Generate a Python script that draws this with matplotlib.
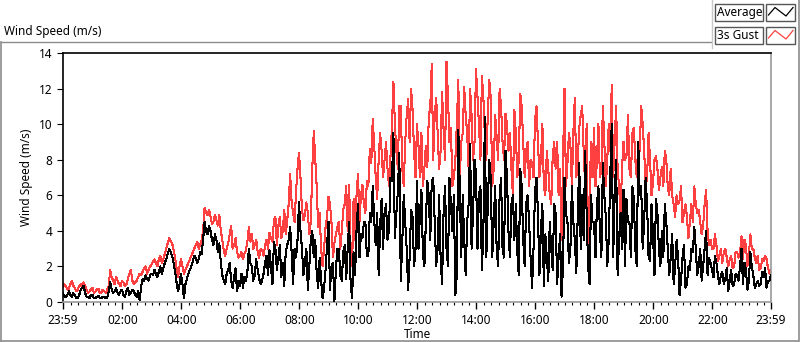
import numpy as np
import matplotlib
matplotlib.use("Agg")
import matplotlib.pyplot as plt
from matplotlib.lines import Line2D
from matplotlib.patches import Rectangle

plt.rcParams['font.family'] = ['Noto Sans', 'DejaVu Sans']

# samples every 3 minutes after 23:59; "main" at 0,6,12..., "mid" at 3,9,15...
minutes = np.arange(0, 1441, 3)

gust_main = [
    0.85, 0.9, 0.75, 1.2, 0.8, 0.7, 1.0, 1.1, 0.7, 0.6, 0.8, 0.6, 0.75, 0.55, 0.6, 0.7, 1.8, 1.2, 1.4, 1.0,
    1.2, 0.9, 1.3, 1.8, 1.0, 1.2, 1.6, 1.7, 2.0, 1.8, 2.1, 2.4, 2.0, 2.6, 2.4, 3.0, 3.6, 3.3, 2.5, 1.4,
    2.4, 1.6, 2.0, 2.4, 2.8, 3.2, 3.0, 3.5, 5.3, 4.9, 4.8, 4.5, 4.6, 4.9, 3.5, 2.6, 3.3, 4.3, 3.2, 2.8,
    2.6, 2.4, 2.9, 4.2, 3.8, 3.2, 2.8, 3.0, 2.6, 3.5, 3.9, 3.4, 4.8, 4.3, 3.6, 5.2, 4.6, 7.2, 5.0, 6.2, 8.4,
    5.2, 4.9, 5.0, 4.5, 9.6, 6.5, 5.0, 2.0, 4.2, 5.9, 4.5, 3.3, 4.2, 3.0, 5.2, 6.5, 6.6, 2.0, 3.5, 7.2,
    6.0, 5.5, 6.8, 8.6, 10.3, 7.0, 8.0, 8.5, 8.0, 7.5, 8.2, 12.4, 8.5, 11.0, 7.5, 9.0, 11.4, 12.0, 8.5, 10.0,
    7.0, 6.5, 8.8, 10.4, 13.4, 10.5, 9.5, 8.5, 9.7, 13.5, 9.0, 6.5, 8.0, 12.5, 9.0, 12.1, 9.5, 12.0, 8.0, 13.1,
    10.0, 12.7, 9.3, 10.5, 11.5, 7.5, 9.3, 12.0, 9.0, 10.6, 8.5, 7.5, 10.8, 7.0, 11.7, 9.0, 8.5, 6.5, 7.8, 10.2, 9.0,
    8.0, 6.5, 8.5, 6.0, 8.2, 7.5, 6.0, 3.5, 12.0, 7.8, 8.8, 9.5, 7.0, 9.8, 11.0, 6.5, 3.0, 9.0, 9.8, 8.0,
    7.0, 11.0, 6.5, 10.0, 12.2, 9.0, 7.5, 5.0, 9.0, 8.2, 7.5, 9.5, 8.0, 9.0, 11.0, 8.5, 7.0, 8.0, 6.7, 8.2, 6.3,
    7.6, 8.5, 6.5, 7.5, 5.5, 6.0, 5.7, 4.5, 5.5, 3.6, 5.5, 6.5, 5.0, 4.5, 4.3, 6.3, 3.2, 3.0, 3.8, 2.3,
    3.0, 2.8, 2.5, 2.4, 1.9, 2.8, 2.5, 3.7, 3.5, 2.0, 3.8, 3.0, 2.2, 1.8, 2.4, 2.6, 1.9, 1.8,
]

gust_mid = [
    1.0, 0.7, 1.0, 0.9, 0.6, 0.9, 0.8, 0.9, 0.5, 0.7, 0.5, 0.7, 0.5, 0.7, 0.5, 0.9, 1.4, 1.0, 1.2, 0.9,
    1.1, 1.0, 1.6, 1.2, 1.1, 1.4, 1.5, 1.9, 1.6, 2.0, 2.3, 2.2, 2.4, 2.2, 2.7, 3.3, 3.4, 2.9, 1.9, 2.0,
    2.0, 1.8, 2.2, 2.6, 3.0, 3.4, 3.2, 4.0, 5.0, 5.2, 4.4, 4.9, 4.3, 4.0, 2.9, 3.0, 3.8, 3.0, 3.6, 2.5,
    2.8, 2.7, 3.4, 3.4, 3.0, 3.5, 2.5, 2.9, 3.2, 3.0, 3.6, 4.6, 3.2, 4.8, 4.0, 3.8, 5.5, 5.6, 4.5, 7.5,
    7.0, 4.6, 5.6, 3.8, 7.5, 8.0, 4.2, 3.0, 3.0, 4.8, 5.5, 2.5, 3.8, 4.5, 4.0, 5.5, 4.0, 3.0, 5.8, 6.0,
    4.5, 6.6, 5.0, 6.5, 7.8, 8.8, 5.8, 9.5, 7.0, 9.0, 6.5, 9.8, 10.0, 7.5, 11.0, 6.5, 10.5, 9.0, 10.8, 7.0,
    8.8, 9.5, 7.5, 7.6, 11.0, 8.0, 11.5, 7.5, 11.8, 8.0, 11.5, 9.8, 7.0, 10.0, 7.0, 9.5, 10.5, 7.5, 10.5, 9.0,
    11.5, 8.0, 11.5, 8.0, 12.5, 6.5, 10.5, 8.0, 11.0, 8.0, 10.0, 9.5, 6.0, 9.5, 8.0, 11.0, 7.0, 9.0, 8.0, 7.0, 11.0,
    7.0, 10.0, 6.0, 7.5, 5.5, 9.0, 9.0, 7.5, 8.0, 6.5, 9.5, 6.5, 11.5, 8.0, 10.5, 8.5, 10.0, 6.0, 7.0, 6.5,
    10.0, 7.5, 9.0, 8.0, 8.5, 7.0, 11.0, 6.5, 7.5, 8.0, 10.5, 7.0, 9.8, 7.0, 8.5, 10.0, 6.5, 9.5, 6.0, 8.0, 7.5,
    7.0, 6.5, 8.0, 6.0, 6.0, 4.8, 5.5, 6.5, 5.0, 4.8, 4.5, 4.5, 5.5, 5.2, 3.8, 5.5, 4.0, 3.5, 3.0, 3.2,
    2.6, 2.2, 3.0, 2.0, 2.6, 2.0, 2.8, 2.7, 2.4, 3.2, 2.6, 3.0, 2.5, 2.6, 1.9, 2.3, 2.4, 1.6,
]

average_main = [
    0.5, 0.3, 0.6, 0.3, 0.4, 0.2, 0.7, 0.9, 0.3, 0.2, 0.4, 0.2, 0.35, 0.2, 0.3, 0.25, 1.1, 0.5, 0.8, 0.4,
    0.7, 0.3, 0.8, 0.5, 0.6, 0.3, 0.1, 1.3, 1.5, 1.2, 1.6, 1.8, 1.4, 2.0, 1.9, 2.4, 3.0, 2.6, 1.7, 0.6,
    1.6, 0.2, 1.3, 1.8, 2.3, 2.5, 2.4, 2.7, 4.5, 3.8, 4.0, 3.2, 3.5, 3.3, 1.5, 1.0, 1.8, 1.2, 1.4, 0.6,
    0.9, 0.8, 1.2, 3.0, 2.0, 1.5, 1.8, 1.0, 1.6, 2.6, 2.9, 1.0, 3.0, 2.5, 1.4, 0.9, 3.2, 4.2, 1.0, 2.5, 5.6,
    3.0, 2.2, 0.7, 3.5, 2.5, 1.6, 2.5, 0.2, 1.8, 4.5, 2.0, 0.05, 3.0, 1.5, 2.8, 1.3, 4.5, 0.2, 1.5, 5.5,
    3.8, 4.5, 2.6, 5.0, 6.5, 3.2, 1.5, 5.8, 5.0, 3.5, 7.0, 9.5, 5.0, 8.4, 3.3, 4.5, 0.7, 5.2, 2.0, 6.8,
    5.0, 2.7, 4.5, 6.0, 6.8, 4.5, 3.0, 2.5, 5.0, 3.0, 7.0, 4.0, 0.4, 9.7, 2.5, 3.5, 4.5, 8.9, 5.0, 7.2,
    6.0, 1.8, 10.4, 5.5, 7.0, 4.5, 3.0, 6.0, 3.0, 8.5, 4.0, 5.5, 3.5, 2.8, 7.5, 3.5, 5.5, 4.5, 0.8, 6.2, 5.0,
    4.0, 0.9, 2.5, 4.5, 1.8, 5.0, 2.5, 0.3, 7.0, 4.5, 3.0, 4.5, 1.6, 7.8, 6.0, 8.5, 2.0, 6.0, 4.5, 5.5,
    4.0, 7.8, 4.8, 3.5, 10.0, 6.0, 1.5, 5.0, 6.3, 5.8, 4.5, 6.5, 3.0, 9.0, 6.5, 4.5, 5.5, 2.3, 3.8, 5.8, 3.0,
    4.0, 5.5, 3.0, 2.5, 1.0, 3.5, 0.4, 2.5, 0.8, 2.0, 3.0, 4.2, 1.5, 3.0, 2.0, 4.0, 2.5, 1.8, 2.6, 1.5,
    1.5, 1.0, 1.9, 1.2, 0.9, 1.6, 1.2, 3.0, 2.2, 0.7, 2.8, 1.5, 1.0, 0.9, 1.7, 1.9, 1.2, 1.5,
]

average_mid = [
    0.3, 0.4, 0.4, 0.5, 0.2, 0.4, 0.8, 0.5, 0.3, 0.4, 0.2, 0.3, 0.2, 0.3, 0.2, 0.6, 0.7, 0.6, 0.5, 0.6,
    0.4, 0.6, 0.4, 0.7, 0.4, 0.6, 0.9, 1.2, 1.3, 1.5, 1.5, 1.6, 1.7, 1.6, 2.2, 2.7, 2.8, 2.2, 1.1, 1.0,
    1.0, 1.0, 1.6, 2.0, 2.6, 2.2, 2.8, 3.5, 4.0, 4.3, 3.5, 3.8, 2.8, 2.2, 1.2, 1.6, 2.2, 0.8, 1.9, 1.2,
    1.6, 1.4, 1.7, 2.2, 1.2, 2.4, 1.3, 1.2, 2.2, 1.5, 2.0, 3.4, 1.8, 3.2, 2.2, 2.8, 3.5, 2.8, 3.0, 3.5,
    4.0, 1.5, 3.0, 2.0, 4.0, 3.5, 0.8, 1.2, 0.8, 3.2, 0.7, 2.2, 1.8, 3.0, 1.2, 3.2, 3.0, 1.0, 2.8, 4.0,
    2.5, 3.6, 4.5, 2.6, 4.5, 4.6, 5.0, 4.3, 3.0, 5.5, 4.0, 6.8, 3.6, 6.2, 1.2, 6.0, 3.0, 2.5, 4.8, 3.0,
    3.0, 6.3, 2.0, 6.8, 3.5, 7.0, 2.0, 6.0, 1.0, 6.5, 2.0, 5.5, 6.0, 1.5, 6.5, 6.0, 1.5, 5.5, 3.0, 8.0,
    3.0, 6.5, 4.0, 2.5, 8.0, 2.5, 6.5, 2.0, 7.0, 2.5, 7.0, 2.5, 6.0, 5.5, 1.5, 6.5, 2.0, 6.0, 2.5, 3.0, 7.0,
    1.5, 5.5, 3.8, 1.2, 3.0, 5.5, 1.0, 3.8, 2.0, 5.0, 2.2, 6.5, 3.5, 5.0, 3.0, 3.5, 5.0, 1.0, 4.5, 2.5,
    6.5, 2.5, 6.0, 2.0, 7.0, 2.5, 8.0, 3.5, 3.0, 2.0, 4.5, 2.5, 5.8, 2.0, 6.0, 3.0, 7.0, 2.5, 5.5, 1.5, 5.0,
    2.0, 2.5, 4.5, 1.5, 3.8, 2.0, 2.5, 1.2, 3.2, 1.0, 1.8, 2.8, 3.0, 2.0, 1.2, 3.0, 1.5, 2.2, 1.4, 2.2,
    1.0, 1.7, 1.3, 0.6, 1.8, 1.0, 1.5, 2.0, 1.0, 1.8, 1.2, 2.0, 0.8, 1.2, 1.0, 1.4, 0.8, 1.2,
]

tick_minutes = [0, 121, 241, 361, 481, 601, 721, 841, 961, 1081, 1201, 1321, 1440]
tick_labels = ["23:59", "02:00", "04:00", "06:00", "08:00", "10:00", "12:00",
               "14:00", "16:00", "18:00", "20:00", "22:00", "23:59"]
y_ticks = [0, 2, 4, 6, 8, 10, 12, 14]
series_names = ["Average", "3s Gust"]


def interleave(main, mid):
    out = np.empty(len(main) + len(mid))
    out[0::2] = main
    out[1::2] = mid
    return out


gust = interleave(gust_main, gust_mid)
average = interleave(average_main, average_mid)

W, H = 800, 342
fig = plt.figure(figsize=(W / 100, H / 100), dpi=100)


def fx(x):
    return x / W


def fy(y):
    return 1 - y / H


RED = '#FF4040'
ax = fig.add_axes([fx(63), fy(302), fx(771) - fx(63), fy(53) - fy(302)])
ax.plot(minutes, gust, color=RED, lw=0.75, zorder=2, antialiased=False)
ax.plot(minutes, average, color='black', lw=0.75, zorder=3, antialiased=False)
ax.set_xlim(0, 1440)
ax.set_ylim(0, 14)
ax.set_yticks(y_ticks)
ax.set_xticks(tick_minutes)
ax.set_xticklabels(tick_labels)
ax.set_xticks(np.arange(16, 1440, 15), minor=True)
ax.tick_params(axis='both', labelsize=8.5, colors='black', direction='out')
ax.tick_params(axis='y', length=4, width=0.8)
ax.tick_params(axis='x', which='major', length=5, width=1)
ax.tick_params(axis='x', which='minor', length=2.5, width=0.8)
ax.set_xlabel("Time", fontsize=8.5, labelpad=1)
ax.set_ylabel("Wind Speed (m/s)", fontsize=8.5, labelpad=4)
for side in ['top', 'left']:
    ax.spines[side].set_color('black')
    ax.spines[side].set_linewidth(1.2)
for side in ['bottom', 'right']:
    ax.spines[side].set_color('#9a9a9a')
    ax.spines[side].set_linewidth(1.2)

# outer panel frame
gray = '#8c8c8c'
fig.add_artist(Line2D([fx(0.5), fx(711)], [fy(42), fy(42)], color=gray, lw=1))
fig.add_artist(Line2D([fx(0.5), fx(0.5)], [fy(42), fy(341)], color=gray, lw=1.2))
fig.add_artist(Line2D([fx(0.5), fx(798)], [fy(340.5), fy(340.5)], color=gray, lw=1.2))
fig.add_artist(Line2D([fx(798.5), fx(798.5)], [fy(0), fy(341)], color=gray, lw=1.2))
fig.add_artist(Line2D([fx(711.5), fx(711.5)], [fy(0), fy(48)], color='#c8c8c8', lw=1))

fig.text(fx(4), fy(32), "Wind Speed (m/s)", fontsize=8.5, va='center', ha='left')

# legend boxes
leg_colors = ['black', RED]
for i, (name, col) in enumerate(zip(series_names, leg_colors)):
    top = 4 + i * 23
    fig.add_artist(Rectangle((fx(715), fy(top + 17)), fx(763) - fx(715), fy(top) - fy(top + 17),
                             facecolor='white', edgecolor='#555555', lw=1))
    fig.add_artist(Rectangle((fx(766), fy(top + 17)), fx(795) - fx(766), fy(top) - fy(top + 17),
                             facecolor='white', edgecolor='#555555', lw=1))
    fig.text(fx(717), fy(top + 8.5), name, fontsize=8.5, va='center', ha='left')
    xs = [768.5, 775, 786, 793]
    ys = [top + 11, top + 3.5, top + 12, top + 3.5]
    fig.add_artist(Line2D([fx(v) for v in xs], [fy(v) for v in ys], color=col, lw=0.9))

fig.savefig("out.png", dpi=100)
